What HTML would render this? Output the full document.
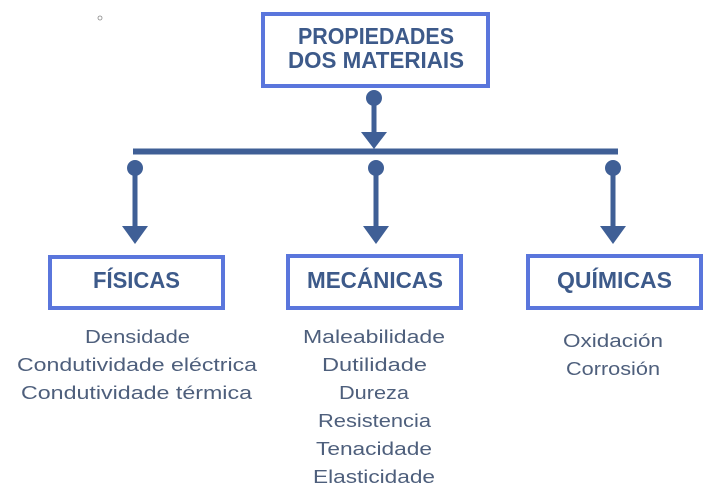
<!DOCTYPE html>
<html><head><meta charset="utf-8"><style>
html,body{margin:0;padding:0;background:#fff;width:716px;height:493px;overflow:hidden}
</style></head><body>
<svg width="716" height="493" viewBox="0 0 716 493" xmlns="http://www.w3.org/2000/svg">
<g fill="none" stroke="#5a76dc" stroke-width="4">
<rect x="263" y="14" width="225" height="72"/>
<rect x="50" y="257" width="173" height="51"/>
<rect x="288" y="256" width="173" height="52"/>
<rect x="528" y="256" width="173" height="52"/>
</g>
<g fill="#3f5f96" stroke="#3f5f96">
<line x1="133" y1="151.5" x2="618" y2="151.5" stroke-width="6"/>
<circle cx="374" cy="98" r="8" stroke="none"/>
<line x1="374" y1="98" x2="374" y2="134" stroke-width="5"/>
<polygon points="361,132 387,132 374,149" stroke="none"/>
<circle cx="135" cy="168" r="8" stroke="none"/>
<line x1="135" y1="168" x2="135" y2="228" stroke-width="5"/>
<polygon points="122,226 148,226 135,244" stroke="none"/>
<circle cx="376" cy="168" r="8" stroke="none"/>
<line x1="376" y1="168" x2="376" y2="228" stroke-width="5"/>
<polygon points="363,226 389,226 376,244" stroke="none"/>
<circle cx="613" cy="168" r="8" stroke="none"/>
<line x1="613" y1="168" x2="613" y2="228" stroke-width="5"/>
<polygon points="600,226 626,226 613,244" stroke="none"/>
</g>
<circle cx="100" cy="18" r="2" fill="none" stroke="#888" stroke-width="0.8"/>
<g font-family="Liberation Sans, sans-serif" font-weight="bold" fill="#3d5a8a" font-size="23">
<text x="298" y="44" textLength="156" lengthAdjust="spacingAndGlyphs">PROPIEDADES</text>
<text x="288" y="68" textLength="176" lengthAdjust="spacingAndGlyphs">DOS MATERIAIS</text>
<text x="93" y="288" textLength="87" lengthAdjust="spacingAndGlyphs">FÍSICAS</text>
<text x="307" y="288" textLength="136" lengthAdjust="spacingAndGlyphs">MECÁNICAS</text>
<text x="557" y="288" textLength="115" lengthAdjust="spacingAndGlyphs">QUÍMICAS</text>
</g>
<g font-family="Liberation Sans, sans-serif" fill="#4e5f7c" font-size="18">
<text x="85" y="343" textLength="105" lengthAdjust="spacingAndGlyphs">Densidade</text>
<text x="17" y="371" textLength="240" lengthAdjust="spacingAndGlyphs">Condutividade eléctrica</text>
<text x="21" y="399" textLength="231" lengthAdjust="spacingAndGlyphs">Condutividade térmica</text>
<text x="303" y="343" textLength="142" lengthAdjust="spacingAndGlyphs">Maleabilidade</text>
<text x="322" y="371" textLength="105" lengthAdjust="spacingAndGlyphs">Dutilidade</text>
<text x="339" y="399" textLength="70" lengthAdjust="spacingAndGlyphs">Dureza</text>
<text x="318" y="427" textLength="113" lengthAdjust="spacingAndGlyphs">Resistencia</text>
<text x="316" y="455" textLength="116" lengthAdjust="spacingAndGlyphs">Tenacidade</text>
<text x="313" y="483" textLength="122" lengthAdjust="spacingAndGlyphs">Elasticidade</text>
<text x="563" y="347" textLength="100" lengthAdjust="spacingAndGlyphs">Oxidación</text>
<text x="566" y="375" textLength="94" lengthAdjust="spacingAndGlyphs">Corrosión</text>
</g>
</svg>
</body></html>
